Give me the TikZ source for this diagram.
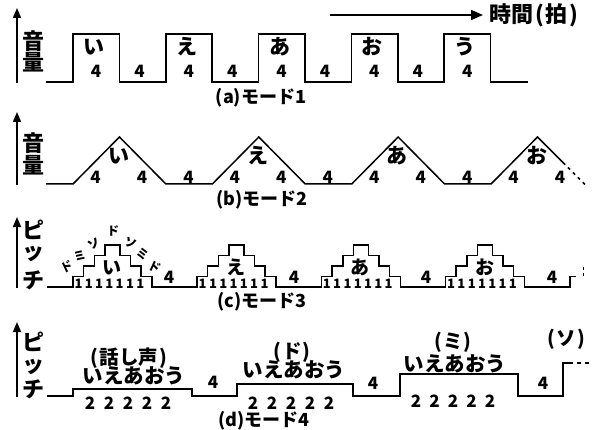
\documentclass[tikz,border=0pt]{standalone}
\usepackage{fontspec}
\setmainfont{Noto Sans CJK JP}
\usetikzlibrary{arrows.meta}
\tikzset{
  wave/.style={line width=1.7pt, line join=miter},
  thinwave/.style={line width=1.5pt, line join=miter},
  axisarrow/.style={line width=1.7pt, -{Triangle[length=10pt,width=8pt]}},
  timearrow/.style={line width=1.5pt, -{Triangle[length=12pt,width=10pt]}},
  txt/.style={inner sep=0pt, font=\bfseries\fontsize{#1}{#1}\selectfont},
  kana/.style={txt=21},
  kanasmall/.style={txt=19},
  num/.style={txt=17},
  axislab/.style={txt=22},
  captext/.style={txt=18},
  solf/.style={txt=12},
  onedigit/.style={txt=13},
  lyric/.style={txt=20.5},
  paren/.style={txt=19.5},
}
\begin{document}
\begin{tikzpicture}[x=1pt,y=-1pt]
\useasboundingbox (0,0) rectangle (593,430);

% ---------- time arrow ----------
\coordinate (t0) at (330,15);
\coordinate (t1) at (483,15);
\draw[timearrow] (t0) -- (t1);
\node[axislab, anchor=west] (tlabel) at (489,15) {時間\hspace{2pt}(\hspace{1.5pt}拍\hspace{1.5pt})};

% ---------- (a) ----------
\coordinate (ya0) at (17,83); \coordinate (ya1) at (17,8);
\draw[axisarrow] (ya0) -- (ya1);
\node[axislab] (a-ax1) at (33,41) {音};
\node[axislab] (a-ax2) at (33,62) {量};
\draw[wave] (46,82) foreach \i in {0,...,4} { -- ({73+92.8*\i},82) -- ({73+92.8*\i},34) -- ({119.4+92.8*\i},34) -- ({119.4+92.8*\i},82) } -- (528,82);
\foreach \k [count=\i from 0] in {い,え,あ,お,う} {
  \node[kana] (a-k\i) at ({94+92.8*\i},47) {\k};
  \node[num] (a-h\i) at ({96+92.8*\i},71) {4};
}
\foreach \i in {0,...,3} \node[num] (a-l\i) at ({139.5+92.8*\i},71) {4};
\node[captext] (capa) at (261,98) {(a)モード1};

% ---------- (b) ----------
\coordinate (yb0) at (17,185); \coordinate (yb1) at (17,112);
\draw[axisarrow] (yb0) -- (yb1);
\node[axislab] (b-ax1) at (33,143) {音};
\node[axislab] (b-ax2) at (33,165) {量};
\draw[thinwave] (46,184) -- (73,184) foreach \i in {0,...,2} { -- ({119.45+139.35*\i},137) -- ({165.9+139.35*\i},184) -- ({212.35+139.35*\i},184) } -- (537.5,137) -- (563,162.5);
\draw[thinwave, dash pattern=on 3pt off 4pt] (563,162.5) -- (585,184.5);
\foreach \k [count=\i from 0] in {い,え,あ,お} {
  \node[kana] (b-k\i) at ({118.5+139.35*\i},156) {\k};
  \node[num] (b-l\i) at ({95.5+139.35*\i},177) {4};
  \node[num] (b-r\i) at ({142+139.35*\i},177) {4};
}
\foreach \i in {0,1,2} \node[num] (b-f\i) at ({188.5+139.35*\i},177) {4};
\node[captext] (capb) at (262,200) {(b)モード2};

% ---------- (c) ----------
\coordinate (yc0) at (17,288); \coordinate (yc1) at (17,217);
\draw[axisarrow] (yc0) -- (yc1);
\node[axislab] (c-ax1) at (33,230) {ピ};
\node[axislab] (c-ax2) at (33,254) {ッ};
\node[axislab] (c-ax3) at (33,280) {チ};
\draw[thinwave] (47,287) foreach \i in {0,...,3} { -- ({73+124.2*\i},287) -- ++(0,-10.5) -- ++(10.5,0) -- ++(0,-10.5) -- ++(11,0) -- ++(0,-10.5) -- ++(10.5,0) -- ++(0,-10.5) -- ++(15,0) -- ++(0,10.5) -- ++(10.5,0) -- ++(0,10.5) -- ++(10.5,0) -- ++(0,10.5) -- ++(11,0) -- ++(0,10.5) } -- (569.8,287) -- (569.8,276.5) -- (576,276.5);
\draw[thinwave, dash pattern=on 3pt off 3pt] (583.5,267) -- (583.5,279);
\foreach \k [count=\i from 0] in {い,え,あ,お} {
  \node[kanasmall] (c-k\i) at ({112+124.2*\i},267.5) {\k};
  \foreach \j in {0,...,6} \node[onedigit] (c-o\i-\j) at ({78.5+124.2*\i+10.3*\j},283.5) {1};
}
\node[num] (c-f0) at (169,277) {4};
\node[num] (c-f1) at (294,277) {4};
\node[num] (c-f2) at (426,277) {4};
\node[num] (c-f3) at (552,277) {4};
\node[solf, rotate=25] (c-s1) at (67,267) {ド};
\node[solf, rotate=25] (c-s2) at (80.5,255.5) {ミ};
\node[solf, rotate=25] (c-s3) at (94,244) {ソ};
\node[solf] (c-s4) at (113,231) {ド};
\node[solf, rotate=-25] (c-s5) at (130.5,243) {ソ};
\node[solf, rotate=-25] (c-s6) at (142.5,254.5) {ミ};
\node[solf, rotate=-25] (c-s7) at (155,266.5) {ド};
\node[captext] (capc) at (262,302) {(c)モード3};

% ---------- (d) ----------
\coordinate (yd0) at (17,397); \coordinate (yd1) at (17,322);
\draw[axisarrow] (yd0) -- (yd1);
\node[axislab] (d-ax1) at (33,342) {ピ};
\node[axislab] (d-ax2) at (33,367) {ッ};
\node[axislab] (d-ax3) at (33,389) {チ};
\draw[wave] (47,396) -- (73,396) -- (73,389) -- (192,389) -- (192,396) -- (237,396) -- (237,384) -- (353,384) -- (353,396) -- (400,396) -- (400,374) -- (518,374) -- (518,396) -- (563,396) -- (563,363) -- (569,363);
\draw[wave, dash pattern=on 4pt off 4pt] (569,363) -- (592,363);
\node[paren] (d-p1) at (129,358) {(\hspace{1pt}話し声\hspace{1pt})};
\node[lyric] (d-l1) at (134,376) {いえあおう};
\node[paren] (d-p2) at (292,352) {(\hspace{1pt}ド\hspace{1pt})};
\node[lyric] (d-l2) at (294,370) {いえあおう};
\node[paren] (d-p3) at (453,342) {(\hspace{1pt}ミ\hspace{1pt})};
\node[lyric] (d-l3) at (455,364) {いえあおう};
\node[paren] (d-p4) at (566.5,339) {(\hspace{1pt}ソ\hspace{1pt})};
\foreach \j in {0,...,4} {
  \node[num] (d-a\j) at ({90+19*\j},403) {2};
  \node[num] (d-b\j) at ({253+19*\j},403) {2};
  \node[num] (d-c\j) at ({416+18.5*\j},401) {2};
}
\node[num] (d-f1) at (213,382) {4};
\node[num] (d-f2) at (373,383) {4};
\node[num] (d-f3) at (543,383) {4};
\node[captext] (capd) at (264,421) {(d)モード4};
\end{tikzpicture}
\end{document}
